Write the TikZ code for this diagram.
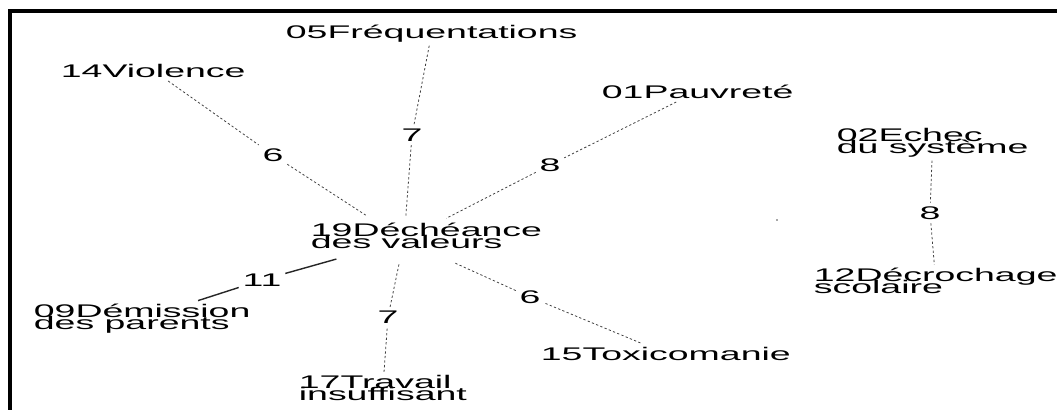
\documentclass[tikz,border=0pt]{standalone}
\usepackage{fontspec}
\newfontfamily\plotfont[FakeStretch=2.05]{Liberation Sans}
\newcommand\tightlines{\lineskiplimit=-20pt\relax}
\tikzset{
  lbl/.style={font={\fontsize{10.4}{6.3}\selectfont\plotfont\tightlines},
              align=left, anchor=base west, inner sep=2pt},
  wt/.style={font={\fontsize{10.4}{12}\selectfont\plotfont}, inner sep=2pt},
  edge/.style={draw=black!75, line width=0.45pt, dash pattern=on 1.3pt off 1.3pt},
  strong/.style={draw=black!85, line width=0.8pt},
  frame/.style={draw=black, line width=2.3pt},
}

\begin{document}
\begin{tikzpicture}[x=0.02cm, y=-0.02cm]
\useasboundingbox (0,0) rectangle (1057,409);

%% ====================  FRAME  ====================

\draw[frame] (10,430) -- (10,11) -- (1080,11);

%% ====================  THEMES  ====================

\node[lbl] (fre05) at (282,38)  {05Fréquentations};
\node[lbl] (vio14) at (57,77)   {14Violence};
\node[lbl] (pau01) at (598,98)  {01Pauvreté};
\node[lbl] (ech02) at (833,153) {02Echec\\du système};
\node[lbl] (dec19) at (307,248) {19Déchéance\\des valeurs};
\node[lbl] (dem09) at (30,329)  {09Démission\\des parents};
\node[lbl] (tra17) at (295,400) {17Travail\\insuffisant};
\node[lbl] (tox15) at (537,360) {15Toxicomanie};
\node[lbl] (dcr12) at (810,293) {12Décrochage\\scolaire};

\coordinate (hub) at (404,240);
\fill[black!70] (777,220) circle (0.5pt);

%% ====================  WEIGHTS  ====================

\node[wt] (w14) at (273,155) {6};
\node[wt] (w05) at (412,135) {7};
\node[wt] (w01) at (550,165) {8};
\node[wt] (w09) at (262,280) {11};
\node[wt] (w17) at (388,317) {7};
\node[wt] (w15) at (530,297) {6};
\node[wt] (w02) at (930,213) {8};

%% ====================  LINKS  ====================

\draw[edge] (vio14) -- (w14);
\draw[edge, shorten >=26pt] (w14) -- (hub);
\draw[edge] (fre05) -- (w05);
\draw[edge, shorten >=14pt] (w05) -- (hub);
\draw[edge] (pau01) -- (w01);
\draw[edge, shorten >=27pt] (w01) -- (hub);
\draw[strong] (dem09) -- (w09);
\draw[strong, shorten >=40pt] (w09) -- (hub);
\draw[edge] (tra17) -- (w17);
\draw[edge, shorten >=13pt] (w17) -- (hub);
\draw[edge] (tox15) -- (w15);
\draw[edge, shorten >=32pt] (w15) -- (hub);
\draw[edge] (ech02) -- (w02);
\draw[edge] (w02) -- (dcr12);

\end{tikzpicture}
\end{document}
